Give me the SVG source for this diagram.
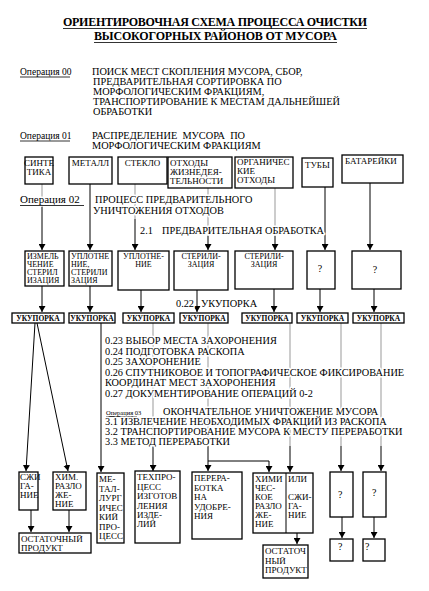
<svg xmlns="http://www.w3.org/2000/svg" width="429" height="591" viewBox="0 0 429 591">
<defs>
<style>
text{font-family:"Liberation Serif","Times New Roman",serif;fill:#000}
.title{font-size:12px;font-weight:bold}
.op{font-size:10.3px}
.lab{font-size:9.5px}
.bx{font-size:9px}
.sm{font-size:8px}
.uk{font-size:7.5px;font-weight:bold}
.h{paint-order:stroke;stroke:#fff;stroke-width:3px;stroke-linejoin:round}
.box{fill:#fff;stroke:#000;stroke-width:1.3}
.ln{stroke:#000;stroke-width:1;fill:none}
.lg{stroke:#999;stroke-width:1;fill:none}
.ul{stroke:#000;stroke-width:0.8}
</style>
<marker id="ar" markerWidth="6" markerHeight="7" refX="6" refY="3.5" orient="auto" markerUnits="userSpaceOnUse">
<path d="M0,0 L6,3.5 L0,7 z" fill="#000"/>
</marker>
</defs>
<rect width="429" height="591" fill="#fff"/>

<g id="connectors">
<line class="lg" x1="42" y1="184" x2="42" y2="207"/>
<line class="ln" x1="42" y1="207" x2="42" y2="250" marker-end="url(#ar)"/>
<line class="ln" x1="90" y1="184" x2="90" y2="250" marker-end="url(#ar)"/>
<line class="lg" x1="135" y1="184" x2="135" y2="219"/>
<line class="ln" x1="135" y1="219" x2="135" y2="250" marker-end="url(#ar)"/>
<line class="lg" x1="208" y1="188" x2="208" y2="236"/>
<line class="ln" x1="208" y1="236" x2="208" y2="250" marker-end="url(#ar)"/>
<line class="lg" x1="275" y1="188" x2="275" y2="236"/>
<line class="ln" x1="275" y1="236" x2="275" y2="250" marker-end="url(#ar)"/>
<line class="ln" x1="325" y1="187" x2="325" y2="250" marker-end="url(#ar)"/>
<line class="ln" x1="370" y1="183" x2="370" y2="250" marker-end="url(#ar)"/>
<line class="ln" x1="42" y1="286" x2="42" y2="312" marker-end="url(#ar)"/>
<line class="ln" x1="90" y1="286" x2="90" y2="312" marker-end="url(#ar)"/>
<line class="ln" x1="141" y1="290" x2="141" y2="312" marker-end="url(#ar)"/>
<line class="ln" x1="197" y1="290" x2="197" y2="312" marker-end="url(#ar)"/>
<line class="ln" x1="274" y1="289" x2="274" y2="312" marker-end="url(#ar)"/>
<line class="ln" x1="320" y1="289" x2="320" y2="312" marker-end="url(#ar)"/>
<line class="ln" x1="374" y1="289" x2="374" y2="312" marker-end="url(#ar)"/>
<line class="ln" x1="35" y1="323" x2="26" y2="471" marker-end="url(#ar)"/>
<line class="ln" x1="37" y1="323" x2="68" y2="471" marker-end="url(#ar)"/>
<line class="ln" x1="101" y1="323" x2="101" y2="472" marker-end="url(#ar)" stroke="#333"/>
<line class="lg" x1="153" y1="323" x2="153" y2="446"/>
<line class="ln" x1="153" y1="446" x2="153" y2="471" marker-end="url(#ar)"/>
<line class="lg" x1="208" y1="323" x2="208" y2="446"/>
<line class="ln" x1="208" y1="446" x2="208" y2="471" marker-end="url(#ar)"/>
<polyline class="ln" points="208,461 269,461 269,472" stroke="#555" marker-end="url(#ar)"/>
<line class="lg" x1="290" y1="323" x2="290" y2="446"/>
<line class="ln" x1="290" y1="446" x2="290" y2="472" marker-end="url(#ar)"/>
<line class="lg" x1="341" y1="323" x2="341" y2="446"/>
<line class="ln" x1="341" y1="446" x2="341" y2="471" marker-end="url(#ar)"/>
<line class="lg" x1="381" y1="323" x2="381" y2="446"/>
<line class="ln" x1="381" y1="446" x2="381" y2="471" marker-end="url(#ar)"/>
<line class="ln" x1="31" y1="510" x2="31" y2="532" marker-end="url(#ar)"/>
<line class="ln" x1="69" y1="510" x2="69" y2="532" marker-end="url(#ar)"/>
<line class="ln" x1="297" y1="533" x2="297" y2="544" marker-end="url(#ar)"/>
<line class="ln" x1="342" y1="517" x2="342" y2="538" marker-end="url(#ar)"/>
<line class="ln" x1="374" y1="517" x2="374" y2="538" marker-end="url(#ar)"/>
</g>

<g id="title">
<text class="title" x="63" y="26" textLength="304" lengthAdjust="spacing">ОРИЕНТИРОВОЧНАЯ СХЕМА ПРОЦЕССА ОЧИСТКИ</text>
<line class="ul" x1="63" y1="28.5" x2="367" y2="28.5"/>
<text class="title" x="94" y="40" textLength="243" lengthAdjust="spacing">ВЫСОКОГОРНЫХ РАЙОНОВ ОТ МУСОРА</text>
<line class="ul" x1="94" y1="42.5" x2="337" y2="42.5"/>
</g>

<g id="op00">
<text class="lab" x="20" y="75">Операция 00</text>
<line class="ul" x1="20" y1="77" x2="70" y2="77"/>
<text class="op" x="92" y="75">ПОИСК МЕСТ СКОПЛЕНИЯ МУСОРА, СБОР,</text>
<text class="op" x="93" y="85">ПРЕДВАРИТЕЛЬНАЯ СОРТИРОВКА ПО</text>
<text class="op" x="93" y="95">МОРФОЛОГИЧЕСКИМ ФРАКЦИЯМ,</text>
<text class="op" x="93" y="105">ТРАНСПОРТИРОВАНИЕ К МЕСТАМ ДАЛЬНЕЙШЕЙ</text>
<text class="op" x="93" y="115">ОБРАБОТКИ</text>
</g>

<g id="op01">
<text class="lab" x="20" y="139">Операция 01</text>
<line class="ul" x1="20" y1="141" x2="70" y2="141"/>
<text class="op" x="92" y="139" xml:space="preserve">РАСПРЕДЕЛЕНИЕ  МУСОРА  ПО</text>
<text class="op" x="92" y="149">МОРФОЛОГИЧЕСКИМ ФРАКЦИЯМ</text>
</g>

<g id="n-sintetika"><rect class="box" x="25" y="157" width="28" height="27"/>
<text class="bx" x="39" y="165.5" text-anchor="middle" font-size="8.5">СИНТЕ</text><text class="bx" x="39" y="174.5" text-anchor="middle" font-size="8.5">ТИКА</text></g>
<g id="n-metall"><rect class="box" x="69" y="157" width="43" height="27"/>
<text class="bx" x="90.5" y="165.5" text-anchor="middle">МЕТАЛЛ</text></g>
<g id="n-steklo"><rect class="box" x="118" y="157" width="49" height="27"/>
<text class="bx" x="142.5" y="165.5" text-anchor="middle" font-size="9.5">СТЕКЛО</text></g>
<g id="n-othody"><rect class="box" x="168" y="157" width="64" height="31"/>
<text class="bx" x="170" y="165.5">ОТХОДЫ</text><text class="bx" x="170" y="174.5">ЖИЗНЕДЕЯ-</text><text class="bx" x="170" y="183.5">ТЕЛЬНОСТИ</text></g>
<g id="n-organ"><rect class="box" x="235" y="157" width="58" height="31"/>
<text class="bx" x="237" y="165">ОРГАНИЧЕС</text><text class="bx" x="237" y="174">КИЕ</text><text class="bx" x="237" y="183">ОТХОДЫ</text></g>
<g id="n-tuby"><rect class="box" x="302" y="158" width="31" height="29"/>
<text class="bx" x="305" y="168">ТУБЫ</text></g>
<g id="n-batarei"><rect class="box" x="342" y="155" width="61" height="28"/>
<text class="bx" x="345" y="164">БАТАРЕЙКИ</text></g>

<g id="op02">
<text class="h" x="20" y="203" font-size="11">Операция 02</text>
<line class="ul" x1="20" y1="205.5" x2="84" y2="205.5"/>
<text class="op h" x="95" y="203">ПРОЦЕСС ПРЕДВАРИТЕЛЬНОГО</text>
<text class="op h" x="93" y="214">УНИЧТОЖЕНИЯ ОТХОДОВ</text>
<text class="op h" x="140" y="234">2.1</text>
<text class="op h" x="162" y="234">ПРЕДВАРИТЕЛЬНАЯ ОБРАБОТКА</text>
</g>

<g id="n-izmel"><rect class="box" x="25" y="251" width="39" height="35"/>
<text class="sm" x="27" y="259">ИЗМЕЛЬ</text><text class="sm" x="27" y="267">ЧЕНИЕ</text><text class="sm" x="27" y="275">СТЕРИЛ</text><text class="sm" x="27" y="283">ИЗАЦИЯ</text></g>
<g id="n-uplot1"><rect class="box" x="69" y="251" width="43" height="35"/>
<text class="sm" x="71" y="259">УПЛОТНЕ</text><text class="sm" x="71" y="267">НИЕ,</text><text class="sm" x="71" y="275">СТЕРИЛИ</text><text class="sm" x="71" y="283">ЗАЦИЯ</text></g>
<g id="n-uplot2"><rect class="box" x="118" y="251" width="51" height="39"/>
<text class="sm" x="143.5" y="259" text-anchor="middle">УПЛОТНЕ-</text><text class="sm" x="143.5" y="267" text-anchor="middle">НИЕ</text></g>
<g id="n-steril1"><rect class="box" x="174" y="251" width="54" height="39"/>
<text class="sm" x="201" y="259" text-anchor="middle">СТЕРИЛИ-</text><text class="sm" x="201" y="267" text-anchor="middle">ЗАЦИЯ</text></g>
<g id="n-steril2"><rect class="box" x="235" y="251" width="58" height="38"/>
<text class="sm" x="264" y="259" text-anchor="middle">СТЕРИЛИ-</text><text class="sm" x="264" y="267" text-anchor="middle">ЗАЦИЯ</text></g>
<g id="n-q1"><rect class="box" x="307" y="251" width="28" height="38"/>
<text x="320" y="272" text-anchor="middle" font-size="10">?</text></g>
<g id="n-q2"><rect class="box" x="352" y="251" width="49" height="38"/>
<text x="375" y="273" text-anchor="middle" font-size="10">?</text></g>

<g id="l022">
<text class="op h" x="176" y="307">0.22</text>
<text class="op h" x="201" y="307">УКУПОРКА</text>
</g>

<g id="n-uk1"><rect class="box" x="12" y="313" width="52" height="10"/><text class="uk" x="38" y="321" text-anchor="middle">УКУПОРКА</text></g>
<g id="n-uk2"><rect class="box" x="69" y="313" width="46" height="10"/><text class="uk" x="92" y="321" text-anchor="middle">УКУПОРКА</text></g>
<g id="n-uk3"><rect class="box" x="123" y="313" width="51" height="10"/><text class="uk" x="148.5" y="321" text-anchor="middle">УКУПОРКА</text></g>
<g id="n-uk4"><rect class="box" x="180" y="313" width="48" height="10"/><text class="uk" x="204" y="321" text-anchor="middle">УКУПОРКА</text></g>
<g id="n-uk5"><rect class="box" x="242" y="313" width="50" height="10"/><text class="uk" x="267" y="321" text-anchor="middle">УКУПОРКА</text></g>
<g id="n-uk6"><rect class="box" x="297" y="313" width="51" height="10"/><text class="uk" x="322.5" y="321" text-anchor="middle">УКУПОРКА</text></g>
<g id="n-uk7"><rect class="box" x="353" y="313" width="51" height="10"/><text class="uk" x="378.5" y="321" text-anchor="middle">УКУПОРКА</text></g>

<g id="steps" xml:space="preserve">
<text class="op h" x="105" y="344">0.23  ВЫБОР МЕСТА ЗАХОРОНЕНИЯ</text>
<text class="op h" x="105" y="354.5">0.24  ПОДГОТОВКА  РАСКОПА</text>
<text class="op h" x="105" y="365">0.25  ЗАХОРОНЕНИЕ</text>
<text class="op h" x="105" y="375.5">0.26  СПУТНИКОВОЕ И ТОПОГРАФИЧЕСКОЕ ФИКСИРОВАНИЕ</text>
<text class="op h" x="105" y="386">КООРДИНАТ МЕСТ ЗАХОРОНЕНИЯ</text>
<text class="op h" x="105" y="396.5">0.27  ДОКУМЕНТИРОВАНИЕ ОПЕРАЦИЙ  0-2</text>
<text class="h" x="106" y="415" font-size="6.5">Операция 03</text>
<line class="ul" x1="106" y1="416.5" x2="137" y2="416.5"/>
<text class="op h" x="163" y="415">ОКОНЧАТЕЛЬНОЕ УНИЧТОЖЕНИЕ МУСОРА</text>
<text class="op h" x="105" y="425">3.1  ИЗВЛЕЧЕНИЕ НЕОБХОДИМЫХ ФРАКЦИЙ ИЗ РАСКОПА</text>
<text class="op h" x="105" y="435">3.2  ТРАНСПОРТИРОВАНИЕ МУСОРА  К МЕСТУ  ПЕРЕРАБОТКИ</text>
<text class="op h" x="105" y="445">3.3  МЕТОД ПЕРЕРАБОТКИ</text>
</g>

<g id="n-szhig"><rect class="box" x="19" y="472" width="19" height="38"/>
<text class="bx" x="20" y="480" font-size="7.5">СЖИ</text><text class="bx" x="20" y="489" font-size="7.5">ГА-</text><text class="bx" x="20" y="498" font-size="7.5">НИЕ</text></g>
<g id="n-himraz"><rect class="box" x="53" y="472" width="33" height="38"/>
<text class="bx" x="55" y="480" font-size="8.5">ХИМ.</text><text class="bx" x="55" y="489" font-size="8.5">РАЗЛО</text><text class="bx" x="55" y="498" font-size="8.5">ЖЕ-</text><text class="bx" x="55" y="507" font-size="8.5">НИЕ</text></g>
<g id="n-ostatok1"><rect class="box" x="19" y="533" width="72" height="20"/>
<text class="bx" x="21" y="542">ОСТАТОЧНЫЙ</text><text class="bx" x="21" y="551">ПРОДУКТ</text></g>
<g id="n-metallurg"><rect class="box" x="97" y="473" width="27" height="70"/>
<text class="bx" x="99" y="482">МЕ-</text><text class="bx" x="99" y="491.5">ТАЛ-</text><text class="bx" x="99" y="501">ЛУРГ</text><text class="bx" x="99" y="510.5">ИЧЕС</text><text class="bx" x="99" y="520">КИЙ</text><text class="bx" x="99" y="529.5">ПРО-</text><text class="bx" x="99" y="539">ЦЕСС</text></g>
<g id="n-tehproc"><rect class="box" x="135" y="471" width="45" height="72"/>
<text class="bx" x="137" y="480">ТЕХПРО-</text><text class="bx" x="137" y="490">ЦЕСС</text><text class="bx" x="137" y="499">ИЗГОТОВ</text><text class="bx" x="137" y="509">ЛЕНИЯ</text><text class="bx" x="137" y="518">ИЗДЕ-</text><text class="bx" x="137" y="527">ЛИЙ</text></g>
<g id="n-pererab"><rect class="box" x="192" y="472" width="50" height="67"/>
<text class="bx" x="194" y="481">ПЕРЕРА-</text><text class="bx" x="194" y="491">БОТКА</text><text class="bx" x="194" y="500">НА</text><text class="bx" x="194" y="510">УДОБРЕ-</text><text class="bx" x="194" y="519">НИЯ</text></g>
<g id="n-himili"><rect class="box" x="253" y="473" width="60" height="60"/>
<line class="ln" x1="286" y1="473" x2="286" y2="533" stroke-width="1.2"/>
<text class="bx" x="255" y="482">ХИМИ</text><text class="bx" x="255" y="491">ЧЕС-</text><text class="bx" x="255" y="500">КОЕ</text><text class="bx" x="255" y="509">РАЗЛО</text><text class="bx" x="255" y="518">ЖЕ-</text><text class="bx" x="255" y="527">НИЕ</text>
<text class="bx" x="288" y="482">ИЛИ</text><text class="bx" x="288" y="500">СЖИ-</text><text class="bx" x="288" y="509">ГА-</text><text class="bx" x="288" y="518">НИЕ</text></g>
<g id="n-ostatok2"><rect class="box" x="263" y="545" width="45" height="33"/>
<text class="bx" x="265" y="554">ОСТАТОЧ</text><text class="bx" x="265" y="563.5">НЫЙ</text><text class="bx" x="265" y="573">ПРОДУКТ</text></g>
<g id="n-q3"><rect class="box" x="330" y="472" width="23" height="45"/>
<text x="338" y="498" font-size="10">?</text></g>
<g id="n-q4"><rect class="box" x="363" y="472" width="23" height="45"/>
<text x="372" y="496" font-size="10">?</text></g>
<g id="n-q5"><rect class="box" x="330" y="539" width="23" height="22"/>
<text x="338" y="550" font-size="10">?</text></g>
<g id="n-q6"><rect class="box" x="363" y="539" width="22" height="22"/>
<text x="365" y="550" font-size="10">?</text></g>
</svg>
